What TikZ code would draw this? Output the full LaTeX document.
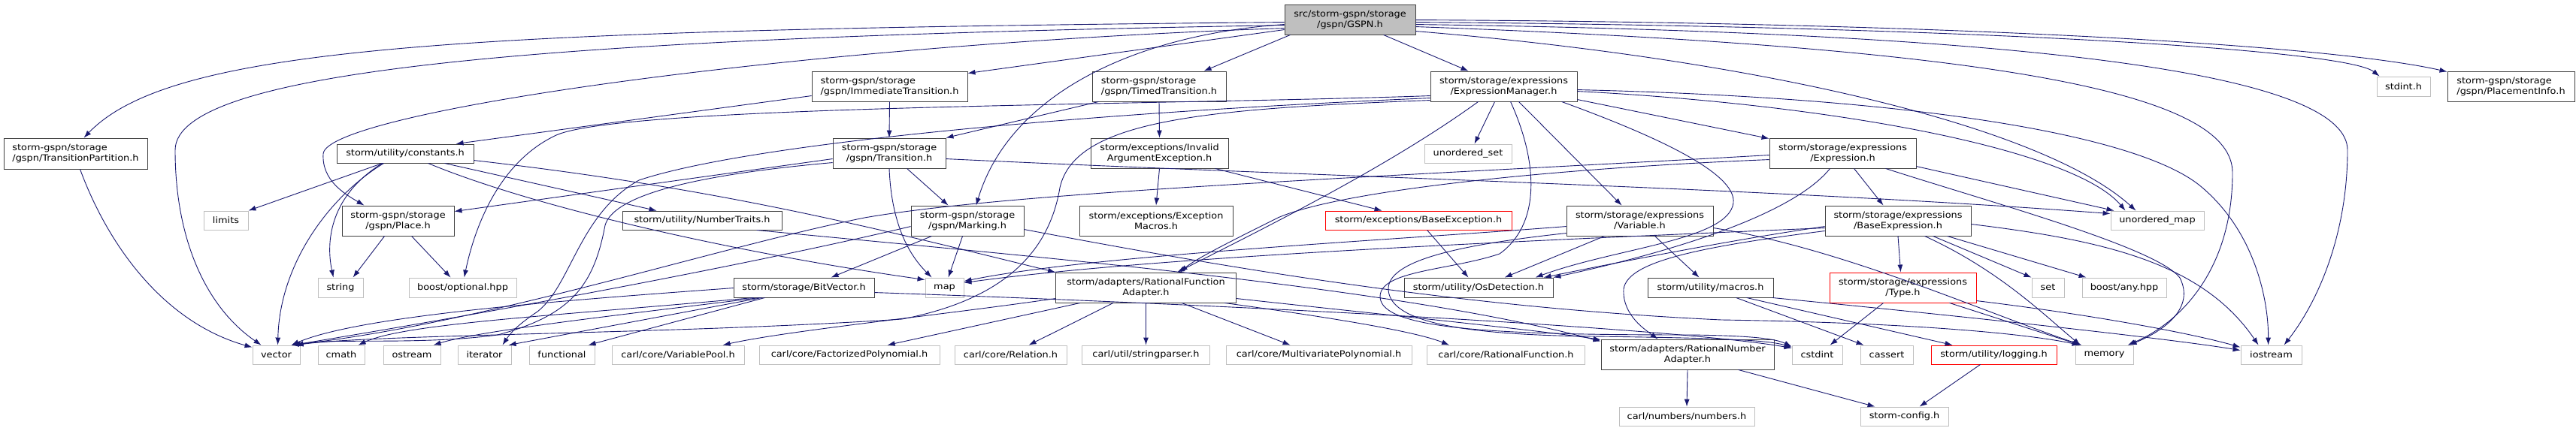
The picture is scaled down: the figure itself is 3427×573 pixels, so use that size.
\documentclass[tikz,border=0pt]{standalone}
\usepackage{fontspec}
\newfontfamily\dvs[FakeStretch=1.11]{DejaVu Sans}
\usetikzlibrary{arrows.meta}
\definecolor{edgecol}{HTML}{191970}
\definecolor{sysgray}{HTML}{BFBFBF}
\definecolor{boxgray}{HTML}{404040}
\newcommand{\nfs}{\dvs\fontsize{11.6}{14}\selectfont}
\tikzset{
  nd/.style={draw=boxgray, fill=white, line width=0.9pt, font=\nfs, align=center, inner sep=0pt},
  sys/.style={nd, draw=sysgray},
  rednd/.style={nd, draw=red},
  rootnd/.style={nd, fill=sysgray},
  e/.style={draw=edgecol, line width=0.9pt, -{Latex[length=10pt,width=7pt]}}
}
\begin{document}
\begin{tikzpicture}[x=1pt,y=-1pt]
\useasboundingbox (0,0) rectangle (3427,573);
% row 1
\node[rootnd, minimum width=174, minimum height=40] (gspn) at (1796,26) {src/storm-gspn/storage\\/gspn/GSPN.h};
% row 2
\node[nd, align=left, minimum width=207, minimum height=40] (imm) at (1183.5,115) {storm-gspn/storage\\/gspn/ImmediateTransition.h};
\node[nd, align=left, minimum width=178, minimum height=40] (timed) at (1542,115) {storm-gspn/storage\\/gspn/TimedTransition.h};
\node[nd, minimum width=195, minimum height=40] (em) at (2000.5,115) {storm/storage/expressions\\/ExpressionManager.h};
\node[sys, minimum width=71, minimum height=26] (stdint) at (3197.5,115) {stdint.h};
\node[nd, align=left, minimum width=169, minimum height=40] (pinfo) at (3340.5,115) {storm-gspn/storage\\/gspn/PlacementInfo.h};
% row 3
\node[nd, align=left, minimum width=191, minimum height=41] (tp) at (100.5,204.5) {storm-gspn/storage\\/gspn/TransitionPartition.h};
\node[nd, minimum width=182, minimum height=25] (const) at (539,204.5) {storm/utility/constants.h};
\node[nd, minimum width=150, minimum height=40] (trans) at (1183,204) {storm-gspn/storage\\/gspn/Transition.h};
\node[nd, minimum width=183, minimum height=40] (invarg) at (1542.5,204) {storm/exceptions/Invalid\\ArgumentException.h};
\node[sys, minimum width=116, minimum height=25] (uset) at (1953,204.5) {unordered\_set};
\node[nd, minimum width=195, minimum height=40] (expr) at (2451.5,204) {storm/storage/expressions\\/Expression.h};
% row 4
\node[sys, minimum width=59, minimum height=25] (limits) at (300.5,293.5) {limits};
\node[nd, minimum width=149, minimum height=40] (place) at (529.5,294) {storm-gspn/storage\\/gspn/Place.h};
\node[nd, minimum width=212, minimum height=25] (ntraits) at (934,293.5) {storm/utility/NumberTraits.h};
\node[nd, minimum width=150, minimum height=40] (marking) at (1287,294) {storm-gspn/storage\\/gspn/Marking.h};
\node[nd, minimum width=204, minimum height=40] (excmac) at (1538,294) {storm/exceptions/Exception\\Macros.h};
\node[rednd, minimum width=248, minimum height=25] (baseexc) at (1887,293.5) {storm/exceptions/BaseException.h};
\node[nd, minimum width=195, minimum height=40] (var) at (2181.5,294) {storm/storage/expressions\\/Variable.h};
\node[nd, minimum width=194, minimum height=40] (bexpr) at (2525,294) {storm/storage/expressions\\/BaseExpression.h};
\node[sys, minimum width=124, minimum height=25] (umap) at (2870,293.5) {unordered\_map};
% row 5
\node[sys, minimum width=60, minimum height=26] (string) at (453,383) {string};
\node[sys, minimum width=143, minimum height=26] (opt) at (615.5,383) {boost/optional.hpp};
\node[nd, minimum width=187, minimum height=26] (bitvec) at (1069.5,383) {storm/storage/BitVector.h};
\node[sys, minimum width=51, minimum height=26] (map) at (1256.5,383) {map};
\node[nd, minimum width=240, minimum height=40] (rfa) at (1524.5,383) {storm/adapters/RationalFunction\\Adapter.h};
\node[nd, minimum width=198, minimum height=26] (osdet) at (1967,383) {storm/utility/OsDetection.h};
\node[nd, minimum width=167, minimum height=26] (macros) at (2275.5,383) {storm/utility/macros.h};
\node[rednd, minimum width=195, minimum height=40] (type) at (2531.5,383) {storm/storage/expressions\\/Type.h};
\node[sys, minimum width=43, minimum height=26] (set) at (2724.5,383) {set};
\node[sys, minimum width=112, minimum height=26] (any) at (2826,383) {boost/any.hpp};
% row 6
\node[sys, minimum width=63, minimum height=25] (vector) at (367.5,472.5) {vector};
\node[sys, minimum width=62, minimum height=25] (cmath) at (454,472.5) {cmath};
\node[sys, minimum width=76, minimum height=25] (ostream) at (548,472.5) {ostream};
\node[sys, minimum width=71, minimum height=25] (iterator) at (644.5,472.5) {iterator};
\node[sys, minimum width=87, minimum height=25] (functional) at (747.5,472.5) {functional};
\node[sys, minimum width=176, minimum height=25] (varpool) at (902,472.5) {carl/core/VariablePool.h};
\node[sys, minimum width=240, minimum height=25] (factpoly) at (1130,472.5) {carl/core/FactorizedPolynomial.h};
\node[sys, minimum width=149, minimum height=25] (relation) at (1344.5,472.5) {carl/core/Relation.h};
\node[sys, minimum width=170, minimum height=25] (strparser) at (1524.5,472.5) {carl/util/stringparser.h};
\node[sys, minimum width=247, minimum height=25] (multipoly) at (1754.5,472.5) {carl/core/MultivariatePolynomial.h};
\node[sys, minimum width=210, minimum height=25] (ratfunc) at (2003.5,472.5) {carl/core/RationalFunction.h};
\node[nd, minimum width=230, minimum height=40] (rna) at (2245,472) {storm/adapters/RationalNumber\\Adapter.h};
\node[sys, minimum width=67, minimum height=25] (cstdint) at (2417.5,472.5) {cstdint};
\node[sys, minimum width=70, minimum height=25] (cassert) at (2510,472.5) {cassert};
\node[rednd, minimum width=167, minimum height=25] (logging) at (2652.5,472.5) {storm/utility/logging.h};
\node[sys, minimum width=77, minimum height=25] (memory) at (2799.5,472.5) {memory};
\node[sys, minimum width=81, minimum height=25] (iostream) at (3021.5,472.5) {iostream};
% row 7
\node[sys, minimum width=180, minimum height=25] (numbers) at (2244,554.5) {carl/numbers/numbers.h};
\node[sys, minimum width=117, minimum height=25] (config) at (2533.5,554.5) {storm-config.h};

% ---- edges from GSPN
\draw[e] ([yshift=-24]gspn.north west) .. controls (620,40) and (230,60) .. ([xshift=107]tp.north west);
\draw[e] ([yshift=-28]gspn.north west) .. controls (750,50) and (233,90) .. (233,200) .. controls (233,320) and (275,410) .. ([xshift=12]vector.north west);
\draw[e] ([yshift=-32]gspn.north west) .. controls (1050,60) and (433,150) .. (430,205) .. controls (428,240) and (458,258) .. ([xshift=30]place.north west);
\draw[e] ([yshift=-34]gspn.north west) -- ([yshift=-3]imm.north east);
\draw[e] ([xshift=8]gspn.south west) -- ([xshift=149]timed.north west);
\draw[e] ([yshift=-27]gspn.north west) .. controls (1520,45) and (1345,120) .. ([xshift=87]marking.north west);
\draw[e] ([xshift=132]gspn.south west) -- ([xshift=51]em.north west);
\draw[e] ([yshift=-21]gspn.north east) .. controls (2600,30) and (3100,60) .. ([yshift=-1]pinfo.north west);
\draw[e] ([yshift=-24]gspn.north east) .. controls (2600,35) and (3120,65) .. ([xshift=4]stdint.north west);
\draw[e] ([yshift=-27]gspn.north east) .. controls (2800,45) and (3123,110) .. (3123,200) .. controls (3123,310) and (3085,400) .. ([xshift=58]iostream.north west);
\draw[e] ([yshift=-30]gspn.north east) .. controls (2700,65) and (2970,130) .. (2970,230) .. controls (2970,360) and (2900,430) .. ([xshift=70]memory.north west);
\draw[e] ([yshift=-36]gspn.north east) .. controls (2350,80) and (2720,170) .. ([xshift=34]umap.north west);
% ---- TransitionPartition
\draw[e] ([xshift=102]tp.south west) .. controls (145,330) and (220,430) .. ([yshift=-3]vector.north west);
% ---- Immediate / Timed / exceptions
\draw[e] (imm.south) -- (trans.north);
\draw[e] ([yshift=-33]imm.north west) -- ([xshift=159]const.north west);
\draw[e] ([xshift=9]timed.south west) -- (trans.north east);
\draw[e] (timed.south) -- (invarg.north);
\draw[e] (invarg.south) -- (excmac.north);
\draw[e] ([xshift=166]invarg.south west) -- ([xshift=76]baseexc.north west);
% ---- ExpressionManager
\draw[e] ([xshift=86]em.south west) -- ([xshift=67]uset.north west);
\draw[e] ([xshift=118]em.south west) -- ([xshift=74]var.north west);
\draw[e] ([yshift=-38]em.north east) -- ([yshift=-1]expr.north west);
\draw[e] ([yshift=-27]em.north east) .. controls (2450,140) and (2760,200) .. ([xshift=20]umap.north west);
\draw[e] ([yshift=-25]em.north east) .. controls (2550,130) and (2850,180) .. (2930,250) .. controls (3000,310) and (3018,400) .. ([xshift=37]iostream.north west);
\draw[e] ([yshift=-33]em.north west) .. controls (1550,140) and (830,140) .. (740,180) .. controls (665,215) and (632,300) .. ([xshift=74]opt.north west);
\draw[e] ([yshift=-36]em.north west) .. controls (1450,150) and (1000,190) .. (850,240) .. controls (770,285) and (760,380) .. (715,415) .. controls (690,432) and (680,442) .. ([xshift=60]iterator.north west);
\draw[e] ([yshift=-39]em.north west) .. controls (1600,145) and (1430,160) .. (1410,250) .. controls (1395,340) and (1330,400) .. (1200,425) .. controls (900,445) and (500,445) .. ([xshift=58]vector.north west);
\draw[e] ([xshift=64]em.south west) .. controls (1850,220) and (1690,300) .. ([xshift=162]rfa.north west);
\draw[e] ([xshift=107]em.south west) .. controls (2048,220) and (2048,300) .. (1995,338) .. controls (1930,360) and (1836,360) .. (1836,395) .. controls (1836,440) and (2000,446) .. (2250,446) .. controls (2320,447) and (2360,450) .. ([yshift=-2]cstdint.north west);
\draw[e] ([xshift=175]em.south west) .. controls (2200,180) and (2310,230) .. (2306,270) .. controls (2300,320) and (2150,330) .. ([xshift=175]osdet.north west);
% ---- constants
\draw[e] ([xshift=61]const.south west) -- (limits.north east);
\draw[e] ([xshift=61]const.south west) .. controls (440,260) and (433,320) .. ([xshift=21]string.north west);
\draw[e] ([xshift=63]const.south west) .. controls (440,260) and (372,350) .. ([xshift=34]vector.north west);
\draw[e] ([xshift=144]const.south west) -- ([xshift=46]ntraits.north west);
\draw[e] ([xshift=122]const.south west) .. controls (720,280) and (1000,340) .. ([yshift=-3]map.north west);
\draw[e] ([yshift=-22]const.north east) .. controls (950,250) and (1150,300) .. (rfa.north west);
% ---- Transition
\draw[e] ([yshift=-28]trans.north west) -- ([yshift=-8]place.north east);
\draw[e] ([yshift=-33]trans.north west) .. controls (900,235) and (815,265) .. (805,300) .. controls (790,380) and (760,420) .. (662,446) .. controls (560,460) and (440,450) .. ([xshift=58]vector.north west);
\draw[e] (trans.south) .. controls (1186,300) and (1210,340) .. ([xshift=9]map.north west);
\draw[e] ([xshift=99]trans.south west) -- ([xshift=50]marking.north west);
\draw[e] ([yshift=-28]trans.north east) .. controls (1750,235) and (2350,250) .. ([yshift=-4]umap.north west);
% ---- Place, NumberTraits
\draw[e] ([xshift=57]place.south west) -- ([xshift=47]string.north west);
\draw[e] ([xshift=93]place.south west) -- ([xshift=56]opt.north west);
\draw[e] ([xshift=179]ntraits.south west) .. controls (1350,340) and (1850,380) .. ([yshift=-3]rna.north west);
% ---- Marking
\draw[e] ([xshift=28]marking.south west) -- ([xshift=130]bitvec.north west);
\draw[e] ([xshift=69]marking.south west) -- ([xshift=31]map.north west);
\draw[e] ([yshift=-32]marking.north east) .. controls (1650,360) and (1950,410) .. (2290,426) .. controls (2550,430) and (2700,445) .. ([xshift=6]memory.north west);
\draw[e] ([yshift=-28]marking.north west) .. controls (1050,340) and (750,400) .. ([xshift=54]vector.north west);
% ---- BaseException, Variable
\draw[e] ([xshift=136]baseexc.south west) -- ([xshift=86]osdet.north west);
\draw[e] ([xshift=51]var.south west) -- ([xshift=134]osdet.north west);
\draw[e] ([xshift=118]var.south west) -- ([xshift=69]macros.north west);
\draw[e] ([yshift=-37]var.north west) .. controls (1950,325) and (1850,345) .. (1847,383) .. controls (1845,430) and (1950,446) .. (2120,448) .. controls (2270,450) and (2350,452) .. ([yshift=-3]cstdint.north west);
\draw[e] ([yshift=-28]var.north west) .. controls (1850,320) and (1450,340) .. ([yshift=-5]map.north east);
\draw[e] ([yshift=-30]var.north east) .. controls (2450,330) and (2650,420) .. ([xshift=9]memory.north west);
% ---- Expression
\draw[e] ([xshift=113]expr.south west) -- ([xshift=78]bexpr.north west);
\draw[e] ([yshift=-38]expr.north east) -- ([xshift=5]umap.north west);
\draw[e] ([xshift=81]expr.south west) .. controls (2390,280) and (2250,330) .. (osdet.north east);
\draw[e] ([yshift=-23]expr.north west) .. controls (1850,235) and (1350,255) .. (1150,290) .. controls (950,330) and (650,430) .. ([xshift=52]vector.north west);
\draw[e] ([yshift=-29]expr.north west) .. controls (2050,225) and (1780,255) .. (1700,290) .. controls (1640,320) and (1590,345) .. ([xshift=166]rfa.north west);
\draw[e] ([xshift=155]expr.south west) .. controls (2650,270) and (2870,330) .. (2900,370) .. controls (2920,410) and (2880,440) .. ([xshift=72]memory.north west);
% ---- BaseExpression
\draw[e] (bexpr.south) -- ([xshift=95]type.north west);
\draw[e] ([xshift=144]bexpr.south west) -- (set.north west);
\draw[e] ([xshift=163]bexpr.south west) -- ([xshift=6]any.north west);
\draw[e] ([xshift=133]bexpr.south west) .. controls (2660,360) and (2720,420) .. ([xshift=7]memory.north west);
\draw[e] ([yshift=-25]bexpr.north east) .. controls (2800,320) and (2930,350) .. ([xshift=24]iostream.north west);
\draw[e] ([yshift=-28]bexpr.north west) .. controls (2300,320) and (2150,350) .. ([xshift=186]osdet.north west);
\draw[e] ([yshift=-30]bexpr.north west) .. controls (2050,320) and (1550,340) .. ([yshift=-7]map.north east);
\draw[e] ([yshift=-34]bexpr.north west) .. controls (2250,330) and (2165,350) .. (2160,385) .. controls (2158,420) and (2190,440) .. ([xshift=76]rna.north west);
% ---- BitVector
\draw[e] ([yshift=-14]bitvec.north west) .. controls (750,400) and (480,420) .. ([xshift=52]vector.north west);
\draw[e] ([xshift=27]bitvec.south west) .. controls (750,420) and (540,430) .. ([xshift=54]cmath.north west);
\draw[e] ([xshift=35]bitvec.south west) .. controls (820,420) and (640,440) .. ([xshift=67]ostream.north west);
\draw[e] ([xshift=38]bitvec.south west) -- ([xshift=68]iterator.north west);
\draw[e] ([xshift=42]bitvec.south west) -- ([xshift=79]functional.north west);
\draw[e] ([yshift=-20]bitvec.north east) .. controls (1750,410) and (2250,440) .. ([yshift=-4]cstdint.north west);
% ---- RationalFunctionAdapter
\draw[e] ([yshift=-35]rfa.north west) .. controls (1250,420) and (1050,440) .. ([xshift=148]varpool.north west);
\draw[e] ([xshift=33]rfa.south west) -- ([xshift=171]factpoly.north west);
\draw[e] ([xshift=77]rfa.south west) -- ([xshift=99]relation.north west);
\draw[e] (rfa.south) -- (strparser.north);
\draw[e] ([xshift=168]rfa.south west) -- ([xshift=86]multipoly.north west);
\draw[e] ([xshift=225]rfa.south west) .. controls (1750,420) and (1880,440) .. ([xshift=30]ratfunc.north west);
\draw[e] ([yshift=-35]rfa.north east) .. controls (1850,420) and (2050,440) .. ([yshift=-1]rna.north west);
% ---- lower part
\draw[e] (rna.south) -- (numbers.north);
\draw[e] ([xshift=183]rna.south west) -- ([xshift=20]config.north west);
\draw[e] ([xshift=66]logging.south west) -- ([xshift=79]config.north west);
\draw[e] ([xshift=72]type.south west) -- ([xshift=51]cstdint.north west);
\draw[e] ([xshift=160]type.south west) -- ([xshift=7]memory.north west);
\draw[e] ([yshift=-38]type.north east) .. controls (2790,420) and (2920,445) .. ([yshift=-3]iostream.north west);
\draw[e] ([xshift=118]macros.south west) -- ([xshift=5]cassert.north west);
\draw[e] ([xshift=132]macros.south west) -- ([xshift=29]logging.north west);
\draw[e] ([xshift=166]macros.south west) .. controls (2600,420) and (2880,450) .. ([yshift=-7]iostream.north west);
\end{tikzpicture}
\end{document}
